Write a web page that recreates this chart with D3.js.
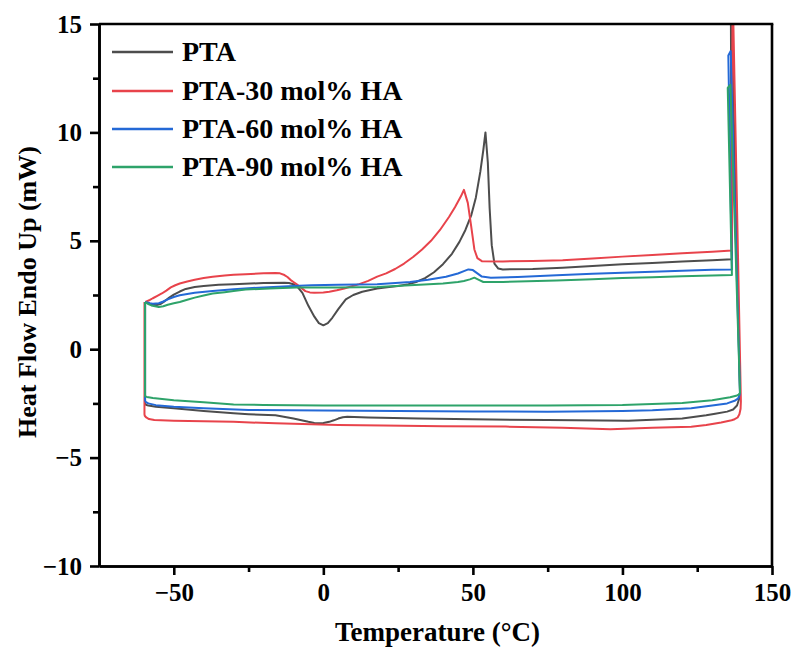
<!DOCTYPE html>
<html>
<head>
<meta charset="utf-8">
<script src="https://cdn.jsdelivr.net/npm/d3@7"></script>
<style>
  html, body { margin: 0; padding: 0; background: #fff; }
  svg { display: block; }
  text { font-family: "Liberation Serif", "Times New Roman", serif; font-weight: bold; fill: #000; }
</style>
</head>
<body>
<svg id="chart" width="792" height="653"></svg>
<script>
// ---------------- data ----------------
const seriesNames = ["PTA", "PTA-30 mol% HA", "PTA-60 mol% HA", "PTA-90 mol% HA"];
const seriesColors = ["#4d4d4d", "#e8434b", "#2469d6", "#2ea36a"];

const xTicksMajor = [-50, 0, 50, 100, 150];
const xTicksMinor = [-25, 25, 75, 125];
const yTicksMajor = [-10, -5, 0, 5, 10, 15];
const yTicksMinor = [-7.5, -2.5, 2.5, 7.5, 12.5];

// PTA
const tempPTA = [-59.5,-58,-56,-54.5,-53,-51.5,-50,-48,-46,-43,-40,-35,-30,-20,-13,-11.5,-10,-8.5,-7,-5,-3,-1.5,0,1.5,3,5,7.5,10,13,18,22,25,28,31,34,37,40,43,45.5,47.5,49.5,51,52.5,53.5,54.2,55,55.6,56.3,57.2,58.5,60,70,80,90,100,110,120,130,136.6,
  136.2,139.3,
  139,138.3,137,135,131,128,120,102,75,50,32,15,8,6.5,5,3.5,2,0,-1.5,-3,-5,-10,-16,-25,-30,-40,-50,-56,-58.5,-59.3,-59.6,-59.6];
const hfPTA = [2.18,2.1,2.03,2.08,2.22,2.38,2.52,2.66,2.78,2.87,2.92,2.97,3.0,3.05,3.07,3.05,3.0,2.85,2.6,2.0,1.5,1.2,1.1,1.2,1.45,1.85,2.3,2.5,2.65,2.8,2.87,2.92,2.98,3.1,3.28,3.55,3.92,4.4,4.95,5.5,6.2,7.0,8.2,9.2,10.0,8.6,6.5,4.8,3.95,3.72,3.68,3.7,3.76,3.84,3.92,3.98,4.05,4.1,4.15,
  17,-2.0,
  -2.3,-2.6,-2.78,-2.88,-2.98,-3.05,-3.2,-3.3,-3.27,-3.23,-3.2,-3.15,-3.12,-3.14,-3.2,-3.28,-3.35,-3.4,-3.42,-3.4,-3.35,-3.2,-3.05,-3.0,-2.96,-2.85,-2.72,-2.65,-2.6,-2.56,-2.5,2.18];

// PTA-30 mol% HA
const temp30 = [-59.5,-58,-57,-55.5,-54,-52.5,-51,-49.5,-48,-45.5,-43,-40,-37,-33,-30,-26,-20,-16,-14.5,-13,-12,-11,-10,-9,-7.5,-6,-4.5,-3,0,2,4.5,7,9.5,12,15,18,21,24,27,30,33,36,39,42,44,46,47,48.3,49.4,50.5,51.5,53,60,70,80,90,100,110,120,130,136.6,
  136.8,139.6,
  139.5,139.1,138.5,137.5,136.5,133,128,123,110,96,80,61,40,20,5,-16,-30,-50,-56.5,-58.3,-59.2,-59.7,-59.8,-59.8];
const hf30 = [2.18,2.27,2.35,2.46,2.57,2.7,2.85,2.95,3.03,3.12,3.2,3.28,3.34,3.4,3.43,3.46,3.5,3.52,3.5,3.42,3.33,3.2,3.1,3.0,2.84,2.68,2.62,2.6,2.62,2.65,2.72,2.8,2.9,3.0,3.15,3.35,3.5,3.7,3.95,4.25,4.6,5.0,5.5,6.1,6.55,7.05,7.35,6.75,5.7,4.6,4.2,4.06,4.05,4.07,4.1,4.18,4.27,4.35,4.43,4.5,4.55,
  17,-2.4,
  -2.75,-3.0,-3.15,-3.23,-3.28,-3.38,-3.5,-3.58,-3.62,-3.69,-3.62,-3.57,-3.55,-3.52,-3.5,-3.42,-3.35,-3.3,-3.27,-3.22,-3.15,-3.07,-3.0,2.18];

// PTA-60 mol% HA
const temp60 = [-59.5,-58,-57,-55,-53.5,-52,-50,-48,-45.5,-43,-37,-30,-20,-10,-4,5,18,29,35,41,45,47,48.5,50,51.5,53,56,65,78,90,100,110,120,130,136.6,
  135.4,136.2,139.3,
  139.1,138.6,137.5,135,130,123,110,100,75,50,25,0,-25,-40,-50,-56,-58.5,-59.3,-59.6,-59.6];
const hf60 = [2.18,2.12,2.1,2.12,2.2,2.3,2.41,2.49,2.55,2.6,2.69,2.77,2.85,2.92,2.95,2.97,3.0,3.1,3.2,3.34,3.49,3.6,3.68,3.65,3.5,3.35,3.3,3.33,3.41,3.48,3.53,3.57,3.62,3.66,3.68,
  13.55,13.75,-2.0,
  -2.15,-2.28,-2.38,-2.5,-2.6,-2.72,-2.82,-2.85,-2.88,-2.87,-2.85,-2.83,-2.8,-2.72,-2.65,-2.58,-2.5,-2.44,-2.38,2.18];

// PTA-90 mol% HA
const temp90 = [-59.5,-58.5,-57.5,-55,-53.5,-52,-50,-48,-45.5,-43,-40,-37,-33,-30,-26,-18,-9,5,18,29,40,45,47,49,50.5,52,53.5,60,78,90,100,110,120,130,136.6,
  135.2,136.1,139.3,
  139,138,136,130,120,100,75,50,25,0,-20,-30,-40,-50,-57,-59,-59.6,-59.6];
const hf90 = [2.18,2.08,2.02,1.95,1.98,2.05,2.12,2.18,2.28,2.38,2.48,2.57,2.63,2.68,2.75,2.8,2.85,2.85,2.87,2.95,3.03,3.1,3.15,3.22,3.3,3.2,3.1,3.1,3.17,3.23,3.28,3.32,3.36,3.4,3.42,
  12.05,12.2,-2.0,
  -2.08,-2.15,-2.22,-2.35,-2.48,-2.57,-2.6,-2.6,-2.6,-2.6,-2.57,-2.55,-2.45,-2.35,-2.25,-2.2,-2.17,2.18];

const seriesTemps = [tempPTA, temp30, temp60, temp90];
const seriesHF = [hfPTA, hf30, hf60, hf90];

// ---------------- layout ----------------
const svg = d3.select("#chart");
const plotL = 99, plotR = 772, plotT = 24, plotB = 566;

const x = d3.scaleLinear().domain([-75, 150]).range([plotL, plotR]);
const y = d3.scaleLinear().domain([-10, 15]).range([plotB, plotT]);

svg.append("defs").append("clipPath").attr("id", "clip")
  .append("rect").attr("x", plotL).attr("y", plotT).attr("width", plotR - plotL).attr("height", plotB - plotT);

// curves
const line = d3.line().x(d => x(d[0])).y(d => y(d[1]));
const curvesG = svg.append("g").attr("clip-path", "url(#clip)");
seriesNames.forEach((name, i) => {
  const pts = seriesTemps[i].map((t, k) => [t, seriesHF[i][k]]);
  curvesG.append("path")
    .datum(pts)
    .attr("d", line)
    .attr("fill", "none")
    .attr("stroke", seriesColors[i])
    .attr("stroke-width", 2)
    .attr("stroke-linejoin", "round");
});

// axes
const fmt = d3.format("");
const axisW = 2.6;
function styleAxis(g) {
  g.select(".domain").attr("stroke", "#000").attr("stroke-width", axisW);
  g.selectAll(".tick line").attr("stroke", "#000").attr("stroke-width", axisW);
}
const xAxisG = svg.append("g").attr("transform", `translate(0,${plotB})`)
  .call(d3.axisBottom(x).tickValues(xTicksMajor).tickSize(9).tickSizeOuter(0).tickPadding(8).tickFormat(fmt));
styleAxis(xAxisG);
xAxisG.selectAll(".tick text").attr("font-size", 25).style("font-family", "'Liberation Serif', serif").style("font-weight", "bold");
const xMinorG = svg.append("g").attr("transform", `translate(0,${plotB})`)
  .call(d3.axisBottom(x).tickValues(xTicksMinor).tickSize(6).tickSizeOuter(0).tickFormat(""));
styleAxis(xMinorG);

const yAxisG = svg.append("g").attr("transform", `translate(${plotL},0)`)
  .call(d3.axisLeft(y).tickValues(yTicksMajor).tickSize(9).tickSizeOuter(0).tickPadding(8).tickFormat(fmt));
styleAxis(yAxisG);
yAxisG.selectAll(".tick text").attr("font-size", 25).style("font-family", "'Liberation Serif', serif").style("font-weight", "bold");
const yMinorG = svg.append("g").attr("transform", `translate(${plotL},0)`)
  .call(d3.axisLeft(y).tickValues(yTicksMinor).tickSize(6).tickSizeOuter(0).tickFormat(""));
styleAxis(yMinorG);

// top and right frame
svg.append("line").attr("x1", plotL).attr("x2", plotR + axisW / 2).attr("y1", plotT).attr("y2", plotT)
  .attr("stroke", "#000").attr("stroke-width", axisW);
svg.append("line").attr("x1", plotR).attr("x2", plotR).attr("y1", plotT).attr("y2", plotB)
  .attr("stroke", "#000").attr("stroke-width", axisW);

// axis titles
svg.append("text")
  .attr("x", (plotL + plotR) / 2 + 2).attr("y", 641)
  .attr("text-anchor", "middle").attr("font-size", 27)
  .text("Temperature (°C)");
svg.append("text")
  .attr("transform", `translate(36,292) rotate(-90)`)
  .attr("text-anchor", "middle").attr("font-size", 26)
  .text("Heat Flow Endo Up (mW)");

// legend
const legY = [52, 91, 129, 167];
const leg = svg.append("g");
seriesNames.forEach((name, i) => {
  leg.append("line").attr("x1", 112).attr("x2", 173).attr("y1", legY[i]).attr("y2", legY[i])
    .attr("stroke", seriesColors[i]).attr("stroke-width", 2.5);
  leg.append("text").attr("x", 182).attr("y", legY[i] + 9).attr("font-size", 28).text(name);
});
</script>
</body>
</html>
